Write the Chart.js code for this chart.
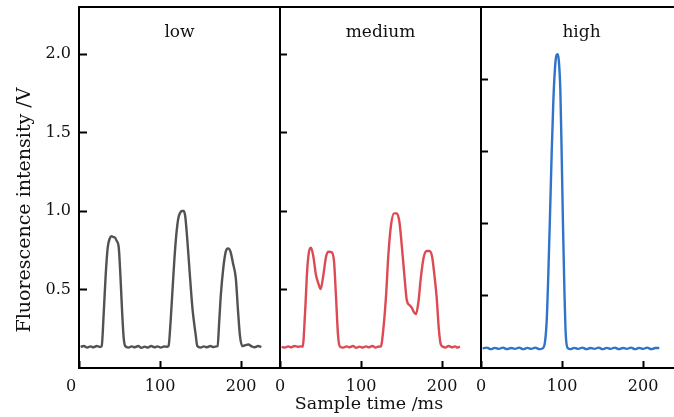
<!DOCTYPE html>
<html>
<head>
  <title>Fluorescence intensity vs sample time</title>
  <script src="https://cdn.jsdelivr.net/npm/chart.js"></script>
</head>
<body style="margin:0;background:#fff;overflow:hidden;">
  <div style="width:674px;height:417px;overflow:hidden;">
    <canvas id="chart" width="690" height="417"></canvas>
  </div>

  <script>
    // each panel spans 0..SPAN ms on its own piece of the x axis
    const SPAN = 248;
    const panelNames = ['low', 'medium', 'high'];
    const xTickValues = [0, 100, 200];
    const yTickValues = [0.5, 1.0, 1.5, 2.0];
    const xTitle = 'Sample time /ms';
    const yTitle = 'Fluorescence intensity /V';

    const lowTime = [2, 6, 10, 14, 18, 22, 26,
      28, 30.5, 33, 35.5, 38, 40, 42, 44.5, 46.5, 49, 51, 53, 55, 57,
      61, 65, 69, 73, 77, 81, 85, 89, 93, 97, 101, 105, 109,
      110.5, 113, 115, 117.5, 120, 122.5, 125, 127, 129, 131, 133.5, 136.5, 140, 144, 146,
      150, 154, 158, 162, 166, 170,
      171, 173, 175, 178, 181, 184, 187, 190, 193.5, 196, 198.5, 201.5,
      205, 209, 213, 217, 221, 225];
    const lowVal = [0.135, 0.14, 0.13, 0.138, 0.132, 0.14, 0.134,
      0.14, 0.35, 0.6, 0.77, 0.826, 0.84, 0.835, 0.83, 0.81, 0.77, 0.6, 0.38, 0.2, 0.14,
      0.13, 0.138, 0.132, 0.14, 0.128, 0.136, 0.13, 0.14, 0.132, 0.138, 0.13, 0.137, 0.135,
      0.14, 0.295, 0.465, 0.677, 0.847, 0.953, 0.99, 1.0, 1.0, 0.97, 0.826, 0.613, 0.38, 0.21, 0.14,
      0.13, 0.138, 0.132, 0.14, 0.133, 0.138,
      0.14, 0.295, 0.465, 0.635, 0.74, 0.762, 0.74, 0.667, 0.571, 0.38, 0.21, 0.14,
      0.145, 0.15, 0.138, 0.132, 0.14, 0.134];

    const mediumTime = [2, 6, 10, 14, 18, 22, 26,
      28, 31, 33.7, 36.2, 38.3, 41.2, 44.4, 47.3, 50.2, 53.5, 56.8, 60, 63.8, 66.7, 69, 71.6, 74,
      78, 82, 86, 90, 94, 98, 102, 106, 110, 114, 118, 122,
      124.3, 127.6, 130.9, 133.7, 137, 140.7, 144, 147.3, 150.2, 153.1, 156.4, 159.7, 162.6, 165.4, 167.9,
      170.8, 173.7, 177, 181, 184.4, 187.7, 190.5, 193.4, 195.9, 198.4, 200.8,
      204, 208, 212, 216, 219, 222];
    const mediumVal = [0.135, 0.13, 0.138, 0.132, 0.14, 0.135, 0.138,
      0.136, 0.36, 0.635, 0.752, 0.766, 0.709, 0.592, 0.539, 0.503, 0.592, 0.709, 0.741, 0.737, 0.677, 0.465, 0.21, 0.136,
      0.13, 0.138, 0.132, 0.14, 0.128, 0.136, 0.13, 0.138, 0.132, 0.14, 0.13, 0.137,
      0.136, 0.253, 0.465, 0.72, 0.911, 0.985, 0.985, 0.932, 0.783, 0.613, 0.433, 0.401, 0.384, 0.355, 0.344,
      0.422, 0.571, 0.698, 0.745, 0.745, 0.709, 0.592, 0.444, 0.253, 0.15, 0.136,
      0.13, 0.14, 0.132, 0.138, 0.13, 0.136];

    const highTime = [2, 7, 12, 17, 22, 27, 32, 37, 42, 47, 52, 57, 62, 67, 72,
      76, 79, 81.1, 83.1, 85.2, 87.2, 89.3, 91.4, 93, 94.5, 96, 97.9, 99.6, 101.2, 102.9, 104.5, 106.6,
      110, 115, 120, 125, 130, 135, 140, 145, 150, 155, 160, 165, 170, 175, 180, 185, 190, 195, 200, 205, 210, 215, 220];
    const highVal = [0.125, 0.13, 0.12, 0.128, 0.122, 0.13, 0.12, 0.127, 0.122, 0.13, 0.12, 0.128, 0.122, 0.13, 0.12,
      0.125, 0.168, 0.306, 0.603, 0.985, 1.367, 1.707, 1.919, 1.99, 2.0, 1.96, 1.77, 1.346, 0.9, 0.497, 0.221, 0.13,
      0.12, 0.128, 0.122, 0.13, 0.12, 0.127, 0.122, 0.13, 0.12, 0.128, 0.122, 0.13, 0.12, 0.127, 0.122, 0.13, 0.12, 0.128, 0.122, 0.13, 0.12, 0.127, 0.128];

    const series = [
      { time: lowTime, val: lowVal, color: '#525252' },
      { time: mediumTime, val: mediumVal, color: '#dc4a53' },
      { time: highTime, val: highVal, color: '#2f74c9' }
    ];

    const serif = '"DejaVu Serif", serif';
    const font = { family: serif, size: 16 };
    const black = '#111';

    // panel names plus the two axis titles
    const chartText = {
      id: 'chartText',
      afterDatasetsDraw(chart) {
        const { ctx, chartArea, scales } = chart;
        ctx.save();
        ctx.fillStyle = black;
        ctx.textAlign = 'center';
        ctx.textBaseline = 'middle';
        ctx.font = '17px ' + serif;
        panelNames.forEach((name, i) => {
          ctx.fillText(name, scales.x.getPixelForValue(SPAN * (i + 0.5)), chartArea.top + 26);
        });
        ctx.font = '17.5px ' + serif;
        ctx.fillText(xTitle, 369, 404);
        ctx.translate(25, 210);
        ctx.rotate(-Math.PI / 2);
        ctx.font = '19px ' + serif;
        ctx.fillText(yTitle, 0, 0);
        ctx.restore();
      }
    };

    function innerAxis(offset, max) {
      return {
        axis: 'y',
        type: 'linear',
        position: { x: offset },
        min: 0,
        max: max,
        afterBuildTicks: s => { s.ticks = yTickValues.map(v => ({ value: v })); },
        ticks: { display: false },
        grid: { display: true, drawOnChartArea: false, tickLength: -8, tickWidth: 2, tickColor: '#000' },
        border: { display: true, color: '#000', width: 2 }
      };
    }

    new Chart(document.getElementById('chart'), {
      type: 'line',
      data: {
        datasets: series.map((s, i) => ({
          data: s.time.map((t, k) => ({ x: t + i * SPAN, y: s.val[k] })),
          borderColor: s.color,
          borderWidth: 2.4,
          pointRadius: 0,
          cubicInterpolationMode: 'monotone',
          xAxisID: 'x',
          yAxisID: 'y'
        }))
      },
      options: {
        responsive: false,
        animation: false,
        layout: { padding: { left: 0, right: 8, top: 0, bottom: 0 } },
        plugins: { legend: { display: false }, tooltip: { enabled: false } },
        scales: {
          x: {
            type: 'linear',
            position: 'bottom',
            min: 0,
            max: 3 * SPAN,
            afterBuildTicks: s => {
              s.ticks = [0, 1, 2].flatMap(p => xTickValues.map(v => ({ value: v + p * SPAN })));
            },
            afterFit: s => { s.height = 49; s.paddingLeft = 0; s.paddingRight = 0; },
            ticks: {
              color: black, font, padding: 16, autoSkip: false, maxRotation: 0,
              // the very first 0 sits a little left of the axis in the original
              callback: (v, i) => String(Math.round(v % SPAN)) + (i === 0 ? '\u2003' : '')
            },
            grid: { display: true, drawOnChartArea: false, tickLength: -7, tickWidth: 2, tickColor: '#000' },
            border: { display: true, color: '#000', width: 2 }
          },
          xTop: {
            type: 'linear',
            position: 'top',
            min: 0,
            max: 3 * SPAN,
            afterFit: s => { s.height = 7; s.paddingLeft = 0; s.paddingRight = 0; },
            ticks: { display: false },
            grid: { display: false },
            border: { display: true, color: '#000', width: 2 }
          },
          y: {
            type: 'linear',
            position: 'left',
            min: 0,
            max: 2.3,
            afterBuildTicks: s => { s.ticks = yTickValues.map(v => ({ value: v })); },
            afterFit: s => { s.width = 79; s.paddingTop = 0; s.paddingBottom = 0; },
            ticks: { color: black, font, padding: 16, callback: v => v.toFixed(1) },
            grid: { display: true, drawOnChartArea: false, tickLength: -8, tickWidth: 2, tickColor: '#000' },
            border: { display: true, color: '#000', width: 2 }
          },
          y2: innerAxis(SPAN, 2.3),
          y3: innerAxis(2 * SPAN, 2.5)
        }
      },
      plugins: [chartText]
    });
  </script>
</body>
</html>
